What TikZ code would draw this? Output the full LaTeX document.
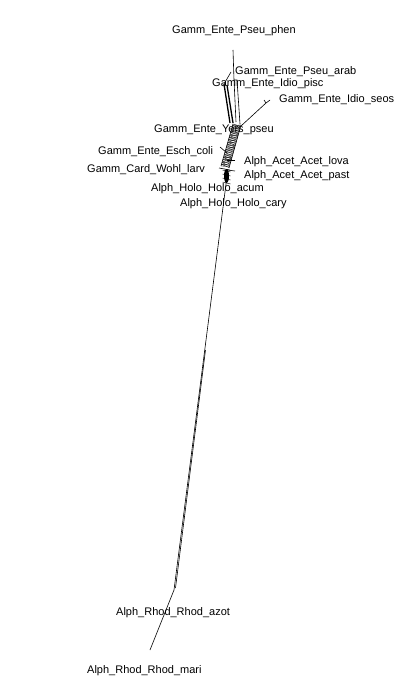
\documentclass[tikz,border=0pt]{standalone}
\usepackage{fontspec}
\setmainfont{Liberation Sans}
\usetikzlibrary{positioning, calc}

\begin{document}
\begin{tikzpicture}[x=1pt, y=-1pt,
  taxon/.style={font=\fontsize{11}{12}\selectfont, inner sep=0pt, anchor=base west},
  edge/.style={black, line width=0.6pt},
  heavy/.style={black, line width=1.3pt},
  hatch/.style={black, line width=0.4pt}
]
\useasboundingbox (0,0) rectangle (418,700);

% tips and junctions of the network
\coordinate (phen)  at (233,50);
\coordinate (p1)    at (234,80);
\coordinate (p2)    at (237,80);
\coordinate (p3)    at (236,122);
\coordinate (p4)    at (240,124);
\coordinate (arab)  at (231,72);
\coordinate (pisc)  at (224,84);
\coordinate (pisc2) at (227,85);
\coordinate (q1)    at (230,123);
\coordinate (q2)    at (233,123);
\coordinate (seos)  at (266,103);
\coordinate (s1)    at (241,126);
\coordinate (bandA) at (241,125);
\coordinate (bandB) at (233,124);
\coordinate (endA)  at (229,168);
\coordinate (endB)  at (221,166);
\coordinate (knot)  at (226.5,176);
\coordinate (ecoli) at (220,147);
\coordinate (e1)    at (227,153);
\coordinate (larv)  at (219,168);
\coordinate (l1)    at (230,170);
\coordinate (lova)  at (235,160);
\coordinate (v1)    at (227,160);
\coordinate (past)  at (235,171);
\coordinate (v2)    at (227,170);
\coordinate (root)  at (226,184);
\coordinate (mid)   at (205.5,350);
\coordinate (azot)  at (174,590);
\coordinate (azot2) at (175.5,588);
\coordinate (mari)  at (150,650);

% Gammaproteobacteria part
\draw[edge] (phen) -- (p1) -- (p3);
\draw[edge] (p1) -- (p2) -- (p4);
\draw[edge] (arab) -- (pisc);
\draw[heavy] (pisc) -- (q1);
\draw[heavy] (pisc2) -- (q2);
\draw[edge] (seos) -- (s1);
\draw[edge] (seos) -- ++(4,-3);
\draw[edge] (seos) -- ++(-2,-3);

% reticulate band
\draw[edge] (bandA) -- (endA);
\draw[edge] (bandB) -- (endB);
\foreach \t in {0,0.04,...,0.96} {
  \draw[hatch] ($(bandA)!\t!(endA)$) -- ($(bandB)!\t+0.04!(endB)$);
  \draw[hatch] ($(bandB)!\t!(endB)$) -- ($(bandA)!\t+0.03!(endA)$);
}
\fill[black] (knot) ellipse (2.5 and 7);
\foreach \dy in {-6,-2,2,6}
  \draw[hatch] ($(knot)+(-4,\dy)$) -- ($(knot)+(4,\dy+2)$);

% short pendant edges
\draw[edge] (ecoli) -- (e1);
\draw[edge] (larv) -- (l1);
\draw[edge] (lova) -- (v1);
\draw[edge] (past) -- (v2);
\draw[edge] (knot) -- (root);

% long Rhodobacter edge
\draw[edge] (root) -- (azot);
\draw[edge] (mid) -- (azot2);
\draw[edge] (azot) -- (mari);

% labels
\node[taxon] (Lphen) at (172,34)  {Gamm\_Ente\_Pseu\_phen};
\node[taxon] (Larab) at (235,75)  {Gamm\_Ente\_Pseu\_arab};
\node[taxon] (Lpisc) at (212,87)  {Gamm\_Ente\_Idio\_pisc};
\node[taxon] (Lseos) at (279,103) {Gamm\_Ente\_Idio\_seos};
\node[taxon] (Lyers) at (154,133) {Gamm\_Ente\_Yers\_pseu};
\node[taxon] (Lcoli) at (98,155)  {Gamm\_Ente\_Esch\_coli};
\node[taxon] (Llarv) at (87,173)  {Gamm\_Card\_Wohl\_larv};
\node[taxon] (Llova) at (244,165) {Alph\_Acet\_Acet\_lova};
\node[taxon] (Lpast) at (244,179) {Alph\_Acet\_Acet\_past};
\node[taxon] (Lacum) at (151,192) {Alph\_Holo\_Holo\_acum};
\node[taxon] (Lcary) at (180,207) {Alph\_Holo\_Holo\_cary};
\node[taxon] (Lazot) at (116,615) {Alph\_Rhod\_Rhod\_azot};
\node[taxon] (Lmari) at (87,673)  {Alph\_Rhod\_Rhod\_mari};
\end{tikzpicture}
\end{document}
